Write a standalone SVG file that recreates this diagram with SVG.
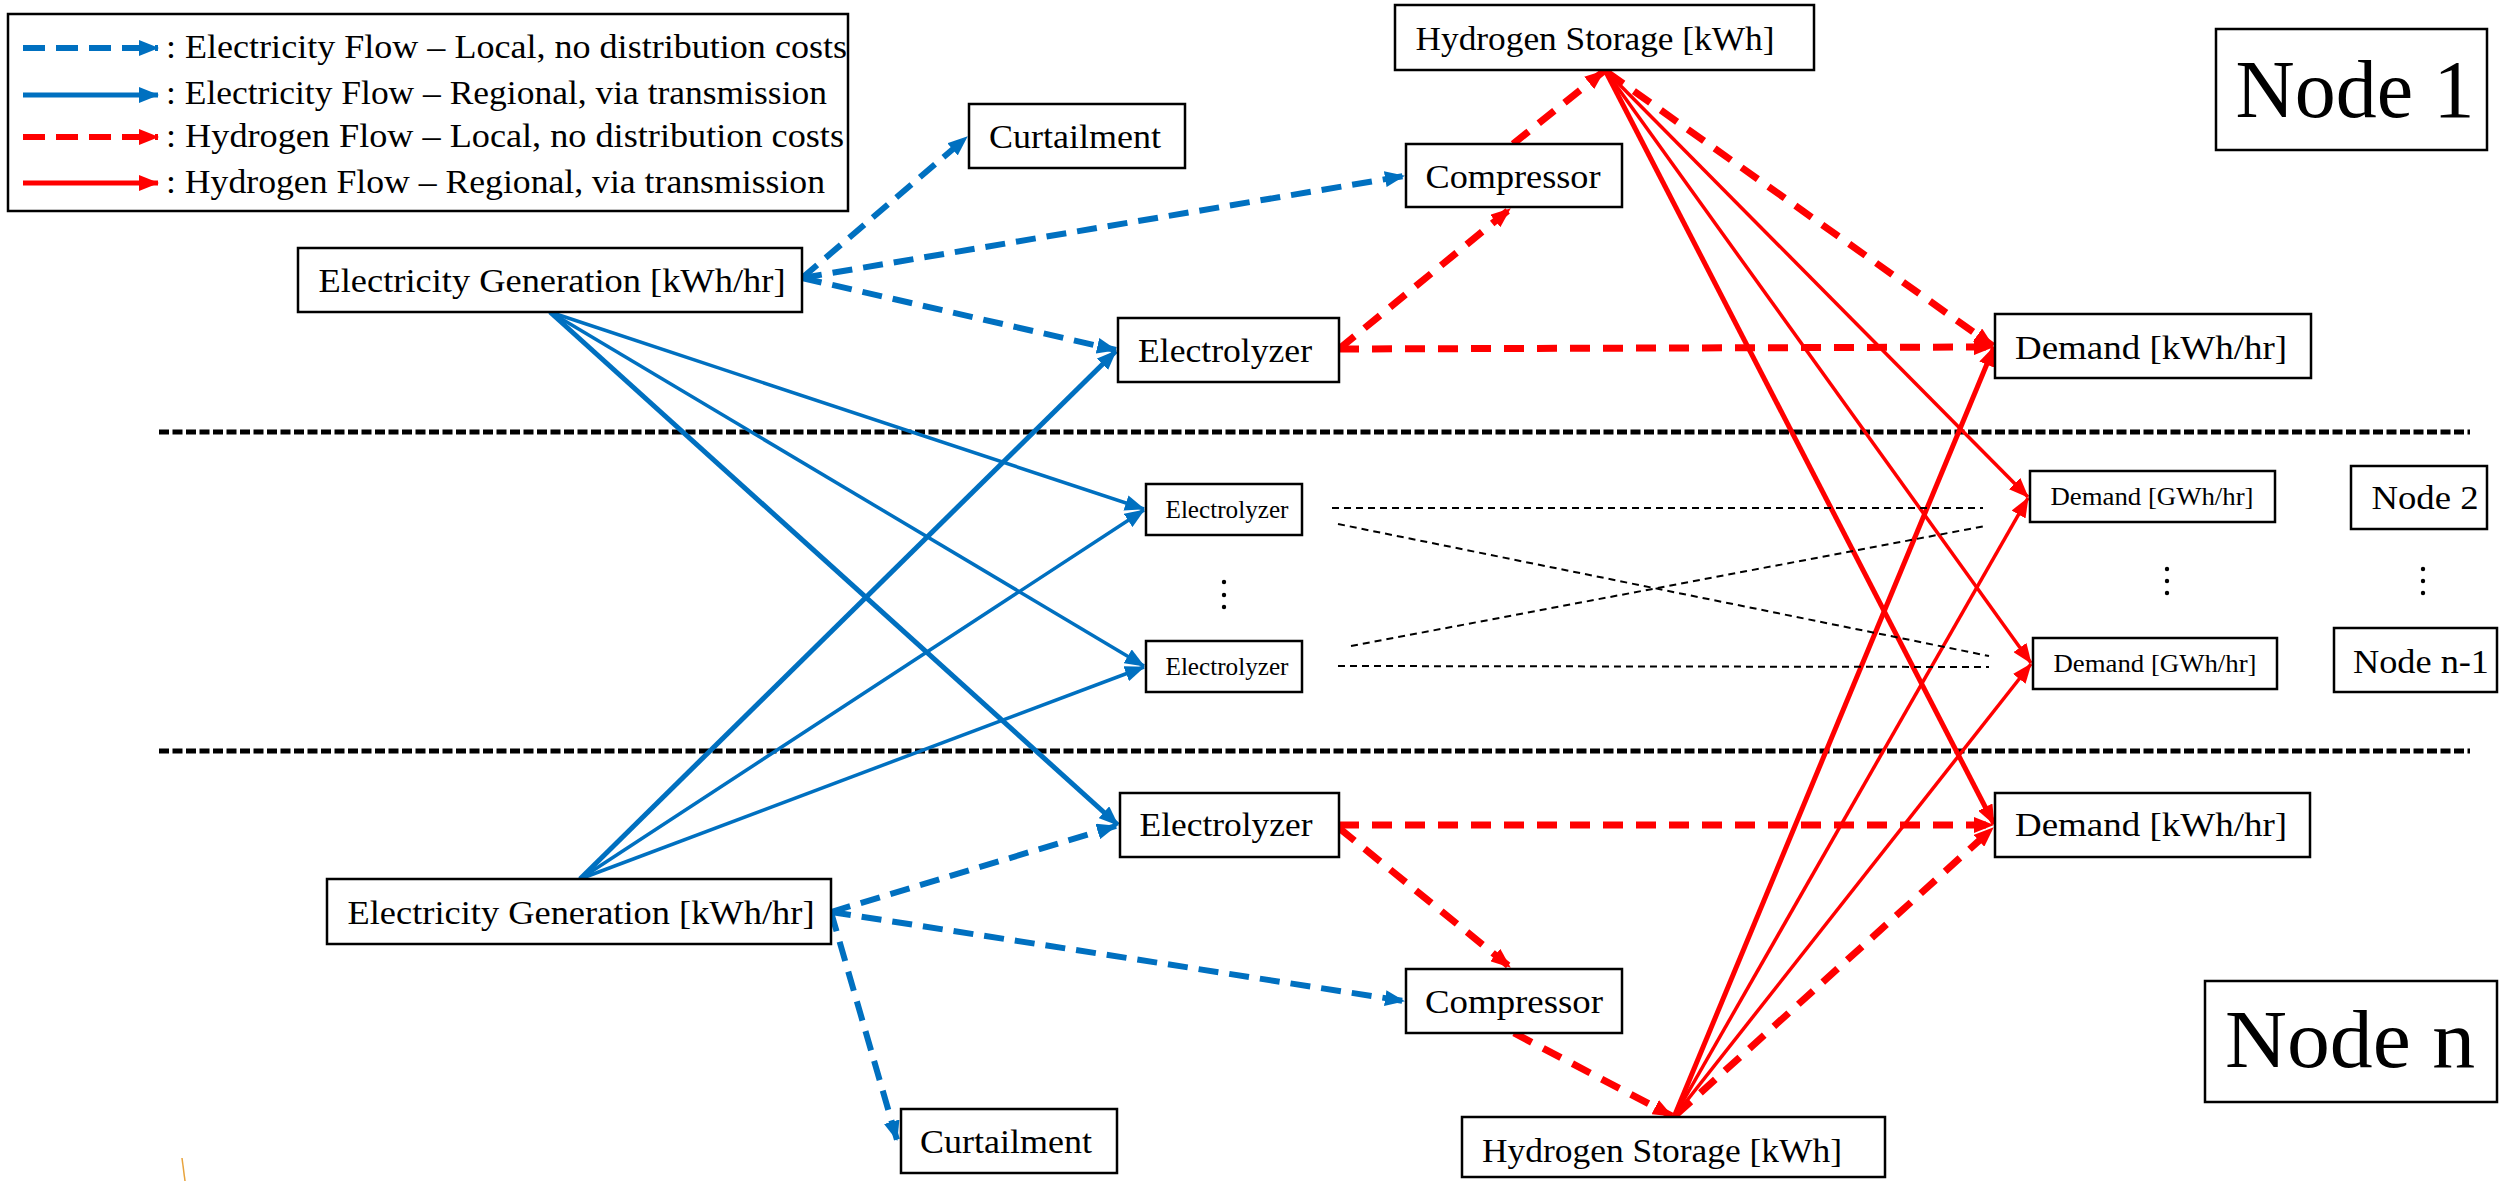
<svg xmlns="http://www.w3.org/2000/svg" width="2499" height="1181" viewBox="0 0 2499 1181">
<style>
.box{fill:#fff;stroke:#000;stroke-width:2.5}
.t{font-family:"Liberation Serif","Times New Roman",serif;fill:#000;text-anchor:middle}
.b{stroke:#0070C0;fill:none}
.r{stroke:#FF0000;fill:none}
.bd{stroke-width:6;stroke-dasharray:20 11}
.rd{stroke-width:7;stroke-dasharray:20 13}
.thin{stroke-width:3.5}
.thick{stroke-width:5}
.sep{stroke:#000;stroke-width:5;stroke-dasharray:10 3.5;fill:none}
.dl{stroke:#000;stroke-width:2;stroke-dasharray:7 5;fill:none}
</style>
<defs>
<marker id="ab" markerUnits="userSpaceOnUse" markerWidth="20" markerHeight="16" viewBox="0 0 20 16" refX="19" refY="8" orient="auto"><path d="M0,0 L20,8 L0,16 Z" fill="#0070C0"/></marker>
<marker id="ar" markerUnits="userSpaceOnUse" markerWidth="20" markerHeight="16" viewBox="0 0 20 16" refX="19" refY="8" orient="auto"><path d="M0,0 L20,8 L0,16 Z" fill="#FF0000"/></marker>
</defs>
<rect width="2499" height="1181" fill="#fff"/>

<g id="separators">
<line class="sep" x1="159" y1="432" x2="2470" y2="432"/>
<line class="sep" x1="159" y1="751" x2="2470" y2="751"/>
</g>

<g id="connectors">
<!-- top node blue dashed -->
<line class="b bd" x1="802" y1="278" x2="967" y2="137" marker-end="url(#ab)"/>
<line class="b bd" x1="802" y1="278" x2="1404" y2="176" marker-end="url(#ab)"/>
<line class="b bd" x1="802" y1="278" x2="1116" y2="350" marker-end="url(#ab)"/>
<!-- bottom node blue dashed -->
<line class="b bd" x1="831" y1="912" x2="1116" y2="826" marker-end="url(#ab)"/>
<line class="b bd" x1="831" y1="912" x2="1404" y2="1001" marker-end="url(#ab)"/>
<line class="b bd" x1="831" y1="912" x2="897" y2="1140" marker-end="url(#ab)"/>
<!-- blue solid from top gen -->
<line class="b thin" x1="550" y1="312" x2="1144" y2="509" marker-end="url(#ab)"/>
<line class="b thin" x1="550" y1="312" x2="1144" y2="666" marker-end="url(#ab)"/>
<line class="b thick" x1="550" y1="312" x2="1118" y2="825" marker-end="url(#ab)"/>
<!-- blue solid from bottom gen -->
<line class="b thick" x1="580" y1="879" x2="1116" y2="351" marker-end="url(#ab)"/>
<line class="b thin" x1="580" y1="879" x2="1144" y2="510" marker-end="url(#ab)"/>
<line class="b thin" x1="580" y1="879" x2="1144" y2="667" marker-end="url(#ab)"/>
<!-- red dashed top -->
<line class="r rd" x1="1339" y1="349" x2="1510" y2="209" marker-end="url(#ar)"/>
<line class="r rd" x1="1339" y1="349" x2="1993" y2="347" marker-end="url(#ar)"/>
<line class="r rd" x1="1513" y1="144" x2="1604" y2="71" marker-end="url(#ar)"/>
<line class="r rd" x1="1607" y1="72" x2="1993" y2="346" marker-end="url(#ar)"/>
<!-- red dashed bottom -->
<line class="r rd" x1="1339" y1="825" x2="1993" y2="825" marker-end="url(#ar)"/>
<line class="r rd" x1="1339" y1="828" x2="1510" y2="967" marker-end="url(#ar)"/>
<line class="r rd" x1="1514" y1="1033" x2="1672" y2="1116" marker-end="url(#ar)"/>
<line class="r rd" x1="1676" y1="1115" x2="1993" y2="828" marker-end="url(#ar)"/>
<!-- red solid from top storage -->
<line class="r thin" x1="1605" y1="70" x2="2028" y2="497" marker-end="url(#ar)"/>
<line class="r thin" x1="1605" y1="70" x2="2031" y2="663" marker-end="url(#ar)"/>
<line class="r thick" x1="1605" y1="70" x2="1994" y2="824" marker-end="url(#ar)"/>
<!-- red solid from bottom storage -->
<line class="r thick" x1="1674" y1="1117" x2="1994" y2="347" marker-end="url(#ar)"/>
<line class="r thin" x1="1674" y1="1117" x2="2028" y2="498" marker-end="url(#ar)"/>
<line class="r thin" x1="1674" y1="1117" x2="2031" y2="664" marker-end="url(#ar)"/>
<!-- thin black dashed between middle nodes -->
<line class="dl" x1="1332" y1="508" x2="1983" y2="508"/>
<line class="dl" x1="1338" y1="524" x2="1989" y2="656"/>
<line class="dl" x1="1351" y1="646" x2="1985" y2="526"/>
<line class="dl" x1="1338" y1="666" x2="1989" y2="667"/>
</g>

<g id="legend">
<rect class="box" x="8" y="14" width="840" height="197"/>
<line class="b" stroke-width="6" stroke-dasharray="22 11" x1="23" y1="48" x2="158" y2="48" marker-end="url(#ab)"/>
<line class="b" stroke-width="5" x1="23" y1="95" x2="158" y2="95" marker-end="url(#ab)"/>
<line class="r" stroke-width="6" stroke-dasharray="22 11" x1="23" y1="137" x2="158" y2="137" marker-end="url(#ar)"/>
<line class="r" stroke-width="5" x1="23" y1="183" x2="158" y2="183" marker-end="url(#ar)"/>
<text class="t" style="text-anchor:start" x="166" y="58" font-size="34" textLength="681" lengthAdjust="spacingAndGlyphs">: Electricity Flow – Local, no distribution costs</text>
<text class="t" style="text-anchor:start" x="166" y="104" font-size="34" textLength="661" lengthAdjust="spacingAndGlyphs">: Electricity Flow – Regional, via transmission</text>
<text class="t" style="text-anchor:start" x="166" y="147" font-size="34" textLength="678" lengthAdjust="spacingAndGlyphs">: Hydrogen Flow – Local, no distribution costs</text>
<text class="t" style="text-anchor:start" x="166" y="193" font-size="34" textLength="659" lengthAdjust="spacingAndGlyphs">: Hydrogen Flow – Regional, via transmission</text>
</g>

<g id="elecgen1"><rect class="box" x="298" y="248" width="504" height="64"/><text class="t" x="552" y="292" font-size="34" textLength="467" lengthAdjust="spacingAndGlyphs">Electricity Generation [kWh/hr]</text></g>
<g id="curtail1"><rect class="box" x="969" y="104" width="216" height="64"/><text class="t" x="1075" y="148" font-size="34" textLength="172" lengthAdjust="spacingAndGlyphs">Curtailment</text></g>
<g id="compressor1"><rect class="box" x="1406" y="144" width="216" height="63"/><text class="t" x="1513" y="188" font-size="34" textLength="175" lengthAdjust="spacingAndGlyphs">Compressor</text></g>
<g id="electrolyzer1"><rect class="box" x="1118" y="318" width="221" height="64"/><text class="t" x="1225" y="362" font-size="34" textLength="174" lengthAdjust="spacingAndGlyphs">Electrolyzer</text></g>
<g id="storage1"><rect class="box" x="1395" y="5" width="419" height="65"/><text class="t" x="1595" y="50" font-size="34" textLength="359" lengthAdjust="spacingAndGlyphs">Hydrogen Storage [kWh]</text></g>
<g id="node1"><rect class="box" x="2216" y="29" width="271" height="121"/><text class="t" x="2355" y="117" font-size="83" textLength="239" lengthAdjust="spacingAndGlyphs">Node 1</text></g>
<g id="demand1"><rect class="box" x="1995" y="314" width="316" height="64"/><text class="t" x="2151" y="359" font-size="34" textLength="272" lengthAdjust="spacingAndGlyphs">Demand [kWh/hr]</text></g>

<g id="electrolyzer2"><rect class="box" x="1146" y="484" width="156" height="51"/><text class="t" x="1227" y="518" font-size="25" textLength="123" lengthAdjust="spacingAndGlyphs">Electrolyzer</text></g>
<g id="electrolyzer3"><rect class="box" x="1146" y="641" width="156" height="51"/><text class="t" x="1227" y="675" font-size="25" textLength="123" lengthAdjust="spacingAndGlyphs">Electrolyzer</text></g>
<g id="demand2"><rect class="box" x="2030" y="471" width="245" height="51"/><text class="t" x="2152" y="505" font-size="25" textLength="203" lengthAdjust="spacingAndGlyphs">Demand [GWh/hr]</text></g>
<g id="demand3"><rect class="box" x="2033" y="638" width="244" height="51"/><text class="t" x="2155" y="672" font-size="25" textLength="203" lengthAdjust="spacingAndGlyphs">Demand [GWh/hr]</text></g>
<g id="node2"><rect class="box" x="2351" y="466" width="136" height="63"/><text class="t" x="2425" y="509" font-size="34" textLength="107" lengthAdjust="spacingAndGlyphs">Node 2</text></g>
<g id="noden1"><rect class="box" x="2334" y="628" width="163" height="64"/><text class="t" x="2421" y="673" font-size="34" textLength="136" lengthAdjust="spacingAndGlyphs">Node n-1</text></g>

<g id="ellipses" fill="#000">
<circle cx="1224" cy="582" r="2.2"/><circle cx="1224" cy="595" r="2.2"/><circle cx="1224" cy="607" r="2.2"/>
<circle cx="2167" cy="569" r="2.2"/><circle cx="2167" cy="581" r="2.2"/><circle cx="2167" cy="593" r="2.2"/>
<circle cx="2423" cy="569" r="2.2"/><circle cx="2423" cy="581" r="2.2"/><circle cx="2423" cy="593" r="2.2"/>
</g>

<g id="electrolyzerN"><rect class="box" x="1120" y="793" width="219" height="64"/><text class="t" x="1226" y="836" font-size="34" textLength="173" lengthAdjust="spacingAndGlyphs">Electrolyzer</text></g>
<g id="demandN"><rect class="box" x="1995" y="793" width="315" height="64"/><text class="t" x="2151" y="836" font-size="34" textLength="272" lengthAdjust="spacingAndGlyphs">Demand [kWh/hr]</text></g>
<g id="elecgenN"><rect class="box" x="327" y="879" width="504" height="65"/><text class="t" x="581" y="924" font-size="34" textLength="467" lengthAdjust="spacingAndGlyphs">Electricity Generation [kWh/hr]</text></g>
<g id="curtailN"><rect class="box" x="901" y="1109" width="216" height="64"/><text class="t" x="1006" y="1153" font-size="34" textLength="172" lengthAdjust="spacingAndGlyphs">Curtailment</text></g>
<g id="compressorN"><rect class="box" x="1406" y="969" width="216" height="64"/><text class="t" x="1514" y="1013" font-size="34" textLength="178" lengthAdjust="spacingAndGlyphs">Compressor</text></g>
<g id="storageN"><rect class="box" x="1462" y="1117" width="423" height="60"/><text class="t" x="1662" y="1162" font-size="34" textLength="360" lengthAdjust="spacingAndGlyphs">Hydrogen Storage [kWh]</text></g>
<g id="nodeN"><rect class="box" x="2205" y="981" width="292" height="121"/><text class="t" x="2350" y="1067" font-size="83" textLength="250" lengthAdjust="spacingAndGlyphs">Node n</text></g>

<line x1="182" y1="1158" x2="185" y2="1181" stroke="#E8A33C" stroke-width="1.5"/>
</svg>
